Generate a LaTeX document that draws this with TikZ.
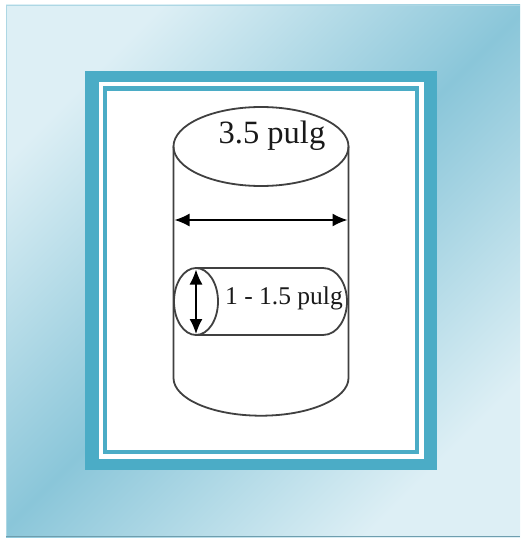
\documentclass[tikz,border=0pt]{standalone}
\usepackage{fontspec}
\setmainfont{Liberation Serif}
\usetikzlibrary{arrows.meta}
\definecolor{frameteal}{HTML}{4BACC6}
\definecolor{panellight}{HTML}{DDEFF5}
\definecolor{paneldark}{HTML}{8AC6D9}
\tikzset{
  cyl/.style={draw=black!75,line width=1.8pt},
  dim/.style={draw=black,line width=1.6pt,{Latex[length=15pt,width=13pt]}-{Latex[length=15pt,width=13pt]}},
  lbl/.style={inner sep=0pt,anchor=base,text=black!90}
}
\begin{document}
\begin{tikzpicture}[x=1pt,y=-1pt]
\useasboundingbox (0,0) rectangle (520,540);
% background panel
\shade[shading=axis,top color=panellight,bottom color=panellight,middle color=paneldark,shading angle=45]
  (6,5) rectangle (520,537);
\draw[color=paneldark!70!white,line width=1pt] (520,5.5) -- (6.5,5.5) -- (6.5,537);
\draw[color=paneldark!80!black,line width=1pt] (6,536.7) -- (520,536.7);
% frame
\fill[frameteal] (85,71) rectangle (437,470);
\fill[white] (98.5,82) rectangle (423.5,458.7);
\fill[frameteal] (102.7,86) rectangle (419,454);
\fill[white] (107,90.7) rectangle (415,450.3);
% large cylinder
\coordinate (bigL) at (173.5,146.5);
\coordinate (bigR) at (348.5,146.5);
\coordinate (bigLb) at (173.5,378);
\coordinate (bigRb) at (348.5,378);
\draw[cyl] (261,146.5) ellipse [x radius=87.5,y radius=39.5];
\draw[cyl] (bigL) -- (bigLb) arc [start angle=180,end angle=0,x radius=87.5,y radius=37.7] -- (bigR);
\coordinate (dl) at (174.5,220);
\coordinate (dr) at (347.5,220);
\draw[dim] (dl) -- (dr);
% small cylinder
\draw[cyl] (196,301.5) ellipse [x radius=22,y radius=33.5];
\draw[cyl] (196,268) -- (323,268) .. controls (338,268) and (347,285) .. (347,301.5)
  .. controls (347,318) and (338,335) .. (323,335) -- (196,335);
\coordinate (dt) at (196,269.5);
\coordinate (db) at (196,334);
\draw[dim] (dt) -- (db);
% labels
\node[lbl,font=\fontsize{32.5}{33}\selectfont] (big) at (272,144) {3.5 pulg};
\node[lbl,font=\fontsize{25.5}{26}\selectfont] (small) at (284,304) {1 - 1.5 pulg};
\end{tikzpicture}
\end{document}
